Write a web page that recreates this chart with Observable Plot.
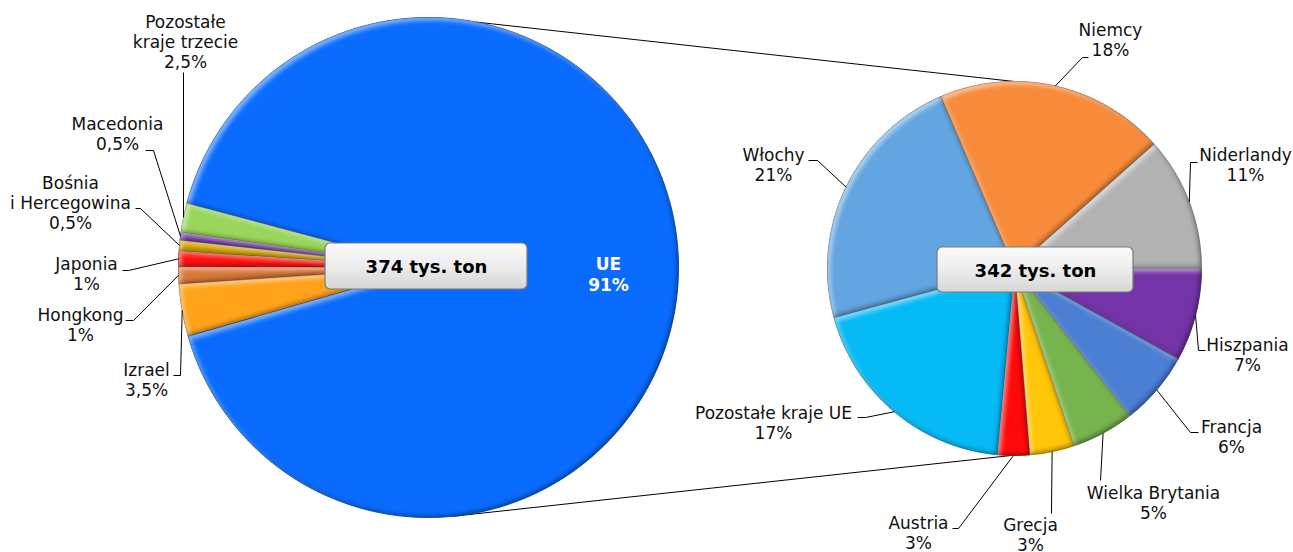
<!DOCTYPE html>
<html><head><meta charset="utf-8">
<script src="https://cdn.jsdelivr.net/npm/d3@7"></script>
<script src="https://cdn.jsdelivr.net/npm/@observablehq/plot@0.6"></script>
<style>
body{margin:0;background:#fff;}
#chart{position:relative;width:1293px;height:552px;overflow:hidden;}
svg{font-family:"DejaVu Sans",Verdana,sans-serif;}
</style></head><body><div id="chart"></div>
<script>
// ---------- DATA ----------
const mainCategories = ["Izrael","Hongkong","Japonia","Bośnia i Hercegowina","Macedonia","Pozostałe kraje trzecie","UE"];
const mainShares = [3.4, 1.1, 1.0, 0.7, 0.5, 1.9, 91.4];
const mainLabels = ["Izrael\n3,5%","Hongkong\n1%","Japonia\n1%","Bośnia\ni Hercegowina\n0,5%","Macedonia\n0,5%","Pozostałe\nkraje trzecie\n2,5%","UE\n91%"];
const euCategories = ["Hiszpania","Francja","Wielka Brytania","Grecja","Austria","Pozostałe kraje UE","Włochy","Niemcy","Niderlandy"];
const euShares = [7.3, 5.8, 4.9, 3.5, 2.5, 17.5, 20.7, 18.0, 10.5];
const euLabels = ["Hiszpania\n7%","Francja\n6%","Wielka Brytania\n5%","Grecja\n3%","Austria\n3%","Pozostałe kraje UE\n17%","Włochy\n21%","Niemcy\n18%","Niderlandy\n11%"];
const totalLabels = ["374 tys. ton","342 tys. ton"];
const footnote = "* kody CN 0201 i 0202";

// ---------- STYLE / LAYOUT ----------
const W = 1293, H = 552;
const mainColors = ["#ffa31a","#d9773a","#ff1010","#d4a400","#7a3aa8","#9ad65c","#0a6cff"];
const euColors = ["#7434a8","#4a7fd4","#76b54e","#ffc60a","#ff0a0a","#06baf6","#62a5e0","#f78b3a","#b2b2b2"];
const mainPie = {cx: 428, cy: 267, r: 250, start: 254};
const euPie = {cx: 1014, cy: 268, r: 187, start: 90};
const mainLabelPos = [
  {x:146, y:375, lead:[[173,375],[180,375]]},
  {x:80, y:320, lead:[[125,320],[133,320]]},
  {x:86, y:269, lead:[[122,270],[128,270]]},
  {x:70, y:188, lead:[[135,208],[140,208]]},
  {x:117, y:129, lead:[[145,150],[153,150]]},
  {x:185, y:27, lead:[[183,72]]},
  {x:608, y:270, lead:null, white:true}
];
const euLabelPos = [
  {x:1247, y:350, lead:[[1205,350],[1198,350]]},
  {x:1231, y:432, lead:[[1198,432],[1190,432]]},
  {x:1153, y:498, lead:[[1100,480]]},
  {x:1030, y:530, lead:[[1051,513]]},
  {x:918, y:528, lead:[[952,528],[958,528]]},
  {x:773, y:418, lead:[[857,417],[865,417]]},
  {x:773, y:160, lead:[[808,160],[817,160]]},
  {x:1110, y:35, lead:[[1088,57],[1082,57]]},
  {x:1245, y:160, lead:[[1197,162],[1190,162]]}
];
const boxes = [{x1:325,x2:527,y1:243,y2:289},{x1:937,x2:1133,y1:247,y2:292}];
const connectorAngles = [[11,0],[174.5,181]];
const LINE = 20, FS = 17;

// ---------- GEOMETRY ----------
const pt = (p, a, r = p.r) => [p.cx + r*Math.sin(a*Math.PI/180), p.cy - r*Math.cos(a*Math.PI/180)];
function slices(pie, cats, shares, colors, prefix){
  const total = d3.sum(shares);
  let a = pie.start;
  return cats.map((c,i) => {
    const a0 = a, a1 = a + shares[i]/total*360; a = a1;
    return {key: prefix+i, cat: c, a0, a1, mid:(a0+a1)/2, color: colors[i]};
  });
}
const mainS = slices(mainPie, mainCategories, mainShares, mainColors, "m");
const euS = slices(euPie, euCategories, euShares, euColors, "e");

const polyPts = [];
for (const [pie, S] of [[mainPie, mainS],[euPie, euS]]) {
  for (const s of S) {
    const dark = d3.color(s.color).darker(0.8).formatHex();
    polyPts.push({key:s.key, x:pie.cx, y:pie.cy, fill:s.color, stroke:dark});
    const n = Math.max(2, Math.ceil((s.a1 - s.a0)/0.5));
    for (let k=0;k<=n;k++){
      const [x,y] = pt(pie, s.a0 + (s.a1-s.a0)*k/n);
      polyPts.push({key:s.key, x, y, fill:s.color, stroke:dark});
    }
    polyPts.push({key:s.key, x:pie.cx, y:pie.cy, fill:s.color, stroke:dark});
  }
}
const leaders = [], labels = [];
function addLabels(pie, S, texts, pos){
  S.forEach((s,i) => {
    const p = pos[i];
    const n = texts[i].split("\n").length;
    labels.push({x:p.x, y:p.y + (n-1)*LINE, text:texts[i], white:!!p.white});
    if (p.lead) {
      const anchor = pt(pie, s.mid);
      [...p.lead, anchor].forEach(([x,y]) => leaders.push({key:s.key, x, y}));
    }
  });
}
addLabels(mainPie, mainS, mainLabels, mainLabelPos);
addLabels(euPie, euS, euLabels, euLabelPos);
const connectors = connectorAngles.map(([a,b]) => {
  const [x1,y1] = pt(mainPie, a), [x2,y2] = pt(euPie, b);
  return {x1,y1,x2,y2};
});
const boxData = boxes.map((b,i) => ({...b, text: totalLabels[i], tx:(b.x1+b.x2)/2, ty:(b.y1+b.y2)/2}));

// ---------- PLOT ----------
const chart = Plot.plot({
  width: W, height: H, margin: 0,
  x: {domain:[0,W], range:[0,W], axis:null},
  y: {domain:[0,H], range:[0,H], axis:null},
  color: {type:"identity"},
  style: {background:"#fff", fontFamily:"'DejaVu Sans', Verdana, sans-serif"},
  marks: [
    Plot.link(connectors, {x1:"x1", y1:"y1", x2:"x2", y2:"y2", stroke:"#000", strokeWidth:1}),
    Plot.line(polyPts, {x:"x", y:"y", z:"key", fill:"fill", stroke:"stroke", strokeWidth:1}),
    Plot.line(polyPts, {x:"x", y:"y", z:"key", fill:"fill", stroke:"none"}),
    Plot.line(leaders, {x:"x", y:"y", z:"key", stroke:"#000", strokeWidth:1, strokeLinecap:"butt"}),
    Plot.text(labels.filter(d=>!d.white), {x:"x", y:"y", text:"text", lineAnchor:"bottom", lineHeight:LINE/FS, fontSize:FS, fill:"#111", textAnchor:"middle"}),
    Plot.text(labels.filter(d=>d.white), {x:"x", y:"y", text:"text", lineAnchor:"bottom", lineHeight:21/FS, fontSize:FS, fontWeight:"bold", fill:"#fff", textAnchor:"middle"}),
    Plot.rect(boxData, {x1:"x1", x2:"x2", y1:"y1", y2:"y2", rx:5, fill:"url(#boxgrad)", stroke:"#7a7a7a", strokeWidth:1.2, ariaLabel:"boxes"}),
    Plot.text(boxData, {x:"tx", y:"ty", text:"text", fontSize:18, fontWeight:"bold", fill:"#000", dy:1}),
    Plot.text([footnote], {x:()=>5, y:()=>559, text:d=>d, textAnchor:"start", fontSize:14, fill:"#111"})
  ]
});
const defs = d3.select(chart).insert("defs", ":first-child");
defs.html(`
<linearGradient id="boxgrad" x1="0" y1="0" x2="0" y2="1">
  <stop offset="0" stop-color="#fbfbfb"/><stop offset="0.5" stop-color="#ececec"/><stop offset="1" stop-color="#d6d6d6"/>
</linearGradient>
<filter id="shadow" filterUnits="userSpaceOnUse" x="0" y="0" width="${W}" height="${H}">
  <feDropShadow dx="1.5" dy="2" stdDeviation="1.5" flood-color="#000" flood-opacity="0.45"/>
</filter>
<filter id="bevel" filterUnits="userSpaceOnUse" x="0" y="0" width="${W}" height="${H}" color-interpolation-filters="sRGB">
  <feGaussianBlur in="SourceAlpha" stdDeviation="2" result="b"/>
  <feOffset in="b" dx="3" dy="3" result="bo1"/>
  <feComposite in="SourceAlpha" in2="bo1" operator="out" result="hiMask"/>
  <feFlood flood-color="#ffffff" flood-opacity="0.5" result="white"/>
  <feComposite in="white" in2="hiMask" operator="in" result="hi"/>
  <feOffset in="b" dx="-2.5" dy="-2.5" result="bo2"/>
  <feComposite in="SourceAlpha" in2="bo2" operator="out" result="shMask"/>
  <feFlood flood-color="#000000" flood-opacity="0.35" result="black"/>
  <feComposite in="black" in2="shMask" operator="in" result="sh"/>
  <feMerge><feMergeNode in="hi"/><feMergeNode in="sh"/></feMerge>
</filter>`);
d3.select(chart).selectAll('g[aria-label="boxes"] rect').attr("filter","url(#shadow)");
const lineGroups = d3.select(chart).selectAll('g[aria-label="line"]').nodes();
if (lineGroups.length >= 2) d3.select(lineGroups[1]).selectAll("path").attr("filter","url(#bevel)");
document.getElementById("chart").appendChild(chart);
</script></body></html>
